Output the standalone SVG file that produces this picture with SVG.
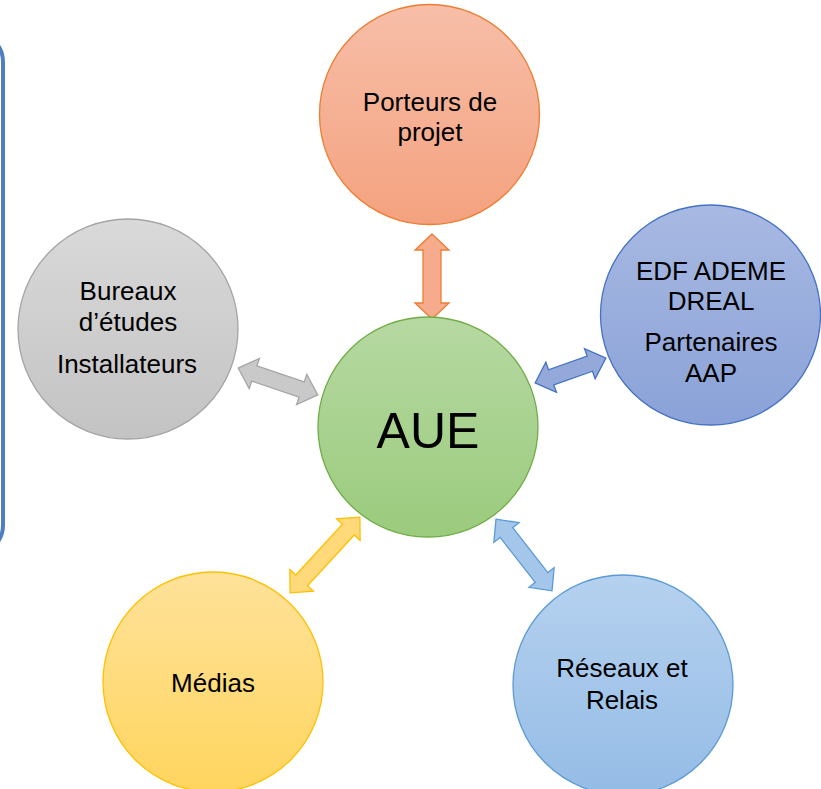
<svg xmlns="http://www.w3.org/2000/svg" width="821" height="789" viewBox="0 0 821 789">
<defs>
<linearGradient id="gO" x1="0" y1="0" x2="0" y2="1"><stop offset="0" stop-color="#f7bea8"/><stop offset="1" stop-color="#f4a27f"/></linearGradient>
<linearGradient id="gG" x1="0" y1="0" x2="0" y2="1"><stop offset="0" stop-color="#d9d9d9"/><stop offset="1" stop-color="#c3c3c3"/></linearGradient>
<linearGradient id="gV" x1="0" y1="0" x2="0" y2="1"><stop offset="0" stop-color="#b6d9a2"/><stop offset="1" stop-color="#9bcb7d"/></linearGradient>
<linearGradient id="gP" x1="0" y1="0" x2="0" y2="1"><stop offset="0" stop-color="#a8b9e2"/><stop offset="1" stop-color="#8aa2d8"/></linearGradient>
<linearGradient id="gY" x1="0" y1="0" x2="0" y2="1"><stop offset="0" stop-color="#ffe29a"/><stop offset="1" stop-color="#ffd55e"/></linearGradient>
<linearGradient id="gB" x1="0" y1="0" x2="0" y2="1"><stop offset="0" stop-color="#b5d1ef"/><stop offset="1" stop-color="#95bce6"/></linearGradient>
</defs>
<style>
.c{stroke-width:1.3}
.t{font-family:"Liberation Sans",Arial,sans-serif;font-size:26px;fill:#000;text-anchor:middle}
.a{stroke-width:1.3;stroke-linejoin:miter}
</style>
<rect x="-100" y="32" width="103" height="523" rx="30" fill="none" stroke="#4f7fc0" stroke-width="4"/>
<g id="connectors">
<path class="a" fill="#f5ab8c" stroke="#ed7d31" transform="translate(432,276.5) rotate(90)" d="M -42.5 0 L -26.5 -17 L -26.5 -9 L 26.5 -9 L 26.5 -17 L 42.5 0 L 26.5 17 L 26.5 9 L -26.5 9 L -26.5 17 Z"/>
<path class="a" fill="#94a9da" stroke="#4472c4" transform="translate(570.5,370.5) rotate(-19.4)" d="M -37.5 0 L -20.5 -16 L -20.5 -8 L 20.5 -8 L 20.5 -16 L 37.5 0 L 20.5 16 L 20.5 8 L -20.5 8 L -20.5 16 Z"/>
<path class="a" fill="#c9c9c9" stroke="#a5a5a5" transform="translate(278,381.5) rotate(18.6)" d="M -42 0 L -25 -16 L -25 -8 L 25 -8 L 25 -16 L 42 0 L 25 16 L 25 8 L -25 8 L -25 16 Z"/>
<path class="a" fill="#ffd97a" stroke="#ffc000" transform="translate(325,555) rotate(-47.4)" d="M -51.5 0 L -34.5 -16 L -34.5 -8 L 34.5 -8 L 34.5 -16 L 51.5 0 L 34.5 16 L 34.5 8 L -34.5 8 L -34.5 16 Z"/>
<path class="a" fill="#a3c6ea" stroke="#5b9bd5" transform="translate(524,555) rotate(52)" d="M -45.5 0 L -28.5 -16 L -28.5 -8 L 28.5 -8 L 28.5 -16 L 45.5 0 L 28.5 16 L 28.5 8 L -28.5 8 L -28.5 16 Z"/>
</g>
<g id="porteurs">
<circle class="c" cx="429.5" cy="114.5" r="110" fill="url(#gO)" stroke="#ed7d31"/>
<text class="t" x="430" y="111">Porteurs de</text>
<text class="t" x="430" y="141">projet</text>
</g>
<g id="bureaux">
<circle class="c" cx="128" cy="329" r="110" fill="url(#gG)" stroke="#a5a5a5"/>
<text class="t" x="128" y="300">Bureaux</text>
<text class="t" x="128" y="331">d’études</text>
<text class="t" x="127" y="373">Installateurs</text>
</g>
<g id="aue">
<circle class="c" cx="428" cy="427" r="110" fill="url(#gV)" stroke="#70ad47"/>
<text class="t" x="428" y="448" style="font-size:50px">AUE</text>
</g>
<g id="edf">
<circle class="c" cx="710.5" cy="315" r="110" fill="url(#gP)" stroke="#4472c4"/>
<text class="t" x="711" y="280">EDF ADEME</text>
<text class="t" x="711" y="310">DREAL</text>
<text class="t" x="711" y="351">Partenaires</text>
<text class="t" x="711" y="382">AAP</text>
</g>
<g id="medias">
<circle class="c" cx="213" cy="682" r="110" fill="url(#gY)" stroke="#ffc000"/>
<text class="t" x="213" y="692">Médias</text>
</g>
<g id="reseaux">
<circle class="c" cx="623" cy="685" r="110" fill="url(#gB)" stroke="#5b9bd5"/>
<text class="t" x="622" y="677">Réseaux et</text>
<text class="t" x="622" y="709">Relais</text>
</g>
</svg>
